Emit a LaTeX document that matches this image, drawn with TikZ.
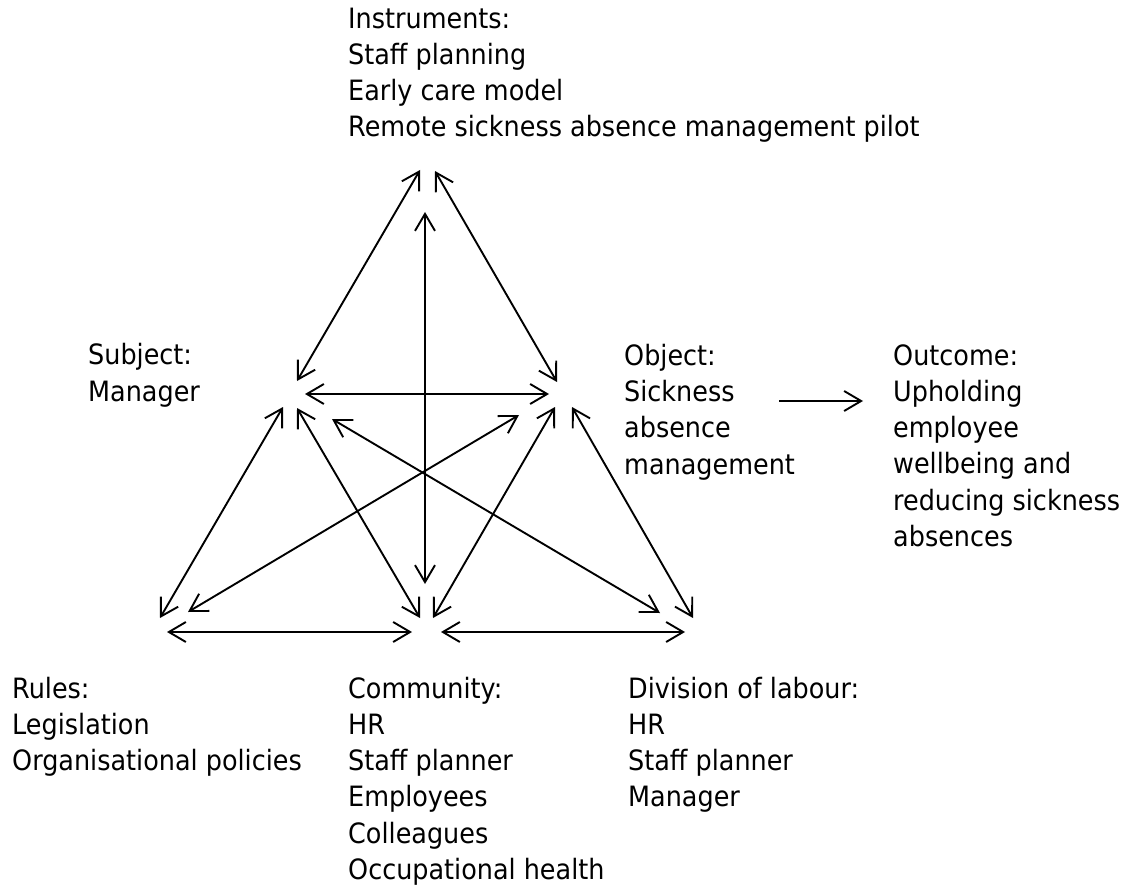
\documentclass[tikz,border=0pt]{standalone}
\usepackage{fontspec}
\setmainfont{DejaVu Sans}[FakeStretch=0.91]
\usetikzlibrary{arrows.meta}
\tikzset{
  lbl/.style={anchor=base west, inner sep=0pt, align=left,
    font=\fontsize{28}{36.3}\selectfont},
  link/.style={line width=1.9pt, {Straight Barb[length=17pt,width=20pt]}-{Straight Barb[length=17pt,width=20pt]}},
  onelink/.style={line width=1.9pt, -{Straight Barb[length=17pt,width=20pt]}}
}
\begin{document}
\begin{tikzpicture}[x=1pt,y=-1pt]
\useasboundingbox[fill=white] (0,0) rectangle (1138,885);
% text blocks (anchor = baseline of last line)
\node[lbl] (instr) at (348,137) {Instruments:\\Staff planning\\Early care model\\Remote sickness absence management pilot};
\node[lbl] (subj) at (88,401) {Subject:\\Manager};
\node[lbl] (obj) at (624,474) {Object:\\Sickness\\absence\\management};
\node[lbl] (outc) at (893,546.5) {Outcome:\\Upholding\\employee\\wellbeing and\\reducing sickness\\absences};
\node[lbl] (rules) at (12,770.6) {Rules:\\Legislation\\Organisational policies};
\node[lbl] (comm) at (348,879.5) {Community:\\HR\\Staff planner\\Employees\\Colleagues\\Occupational health};
\node[lbl] (div) at (628,806.9) {Division of labour:\\HR\\Staff planner\\Manager};
% arrow end points
\coordinate (iL) at (420,170);
\coordinate (iR) at (435,171);
\coordinate (iV) at (425,212);
\coordinate (cV) at (425,584);
\coordinate (sT) at (297,381);
\coordinate (oT) at (557,382);
\coordinate (sH) at (305,394);
\coordinate (oH) at (549,394);
\coordinate (sR) at (283,407);
\coordinate (rS) at (160,618);
\coordinate (sC) at (297,408);
\coordinate (cS) at (420,618);
\coordinate (sD) at (332,419);
\coordinate (dS) at (660,613);
\coordinate (oR) at (519,415);
\coordinate (rO) at (188,612);
\coordinate (oC) at (555,407);
\coordinate (cO) at (433,618);
\coordinate (oD) at (572,407);
\coordinate (dO) at (693,618);
\coordinate (rC) at (167,632);
\coordinate (cR) at (412,632);
\coordinate (cD) at (441,632);
\coordinate (dC) at (685,632);
\coordinate (oOut) at (779,401);
\coordinate (outIn) at (863,401);
% connectors
\draw[link] (iL) -- (sT);
\draw[link] (iR) -- (oT);
\draw[link] (iV) -- (cV);
\draw[link] (sH) -- (oH);
\draw[link] (sR) -- (rS);
\draw[link] (sC) -- (cS);
\draw[link] (sD) -- (dS);
\draw[link] (oR) -- (rO);
\draw[link] (oC) -- (cO);
\draw[link] (oD) -- (dO);
\draw[link] (rC) -- (cR);
\draw[link] (cD) -- (dC);
\draw[onelink] (oOut) -- (outIn);
\end{tikzpicture}
\end{document}
